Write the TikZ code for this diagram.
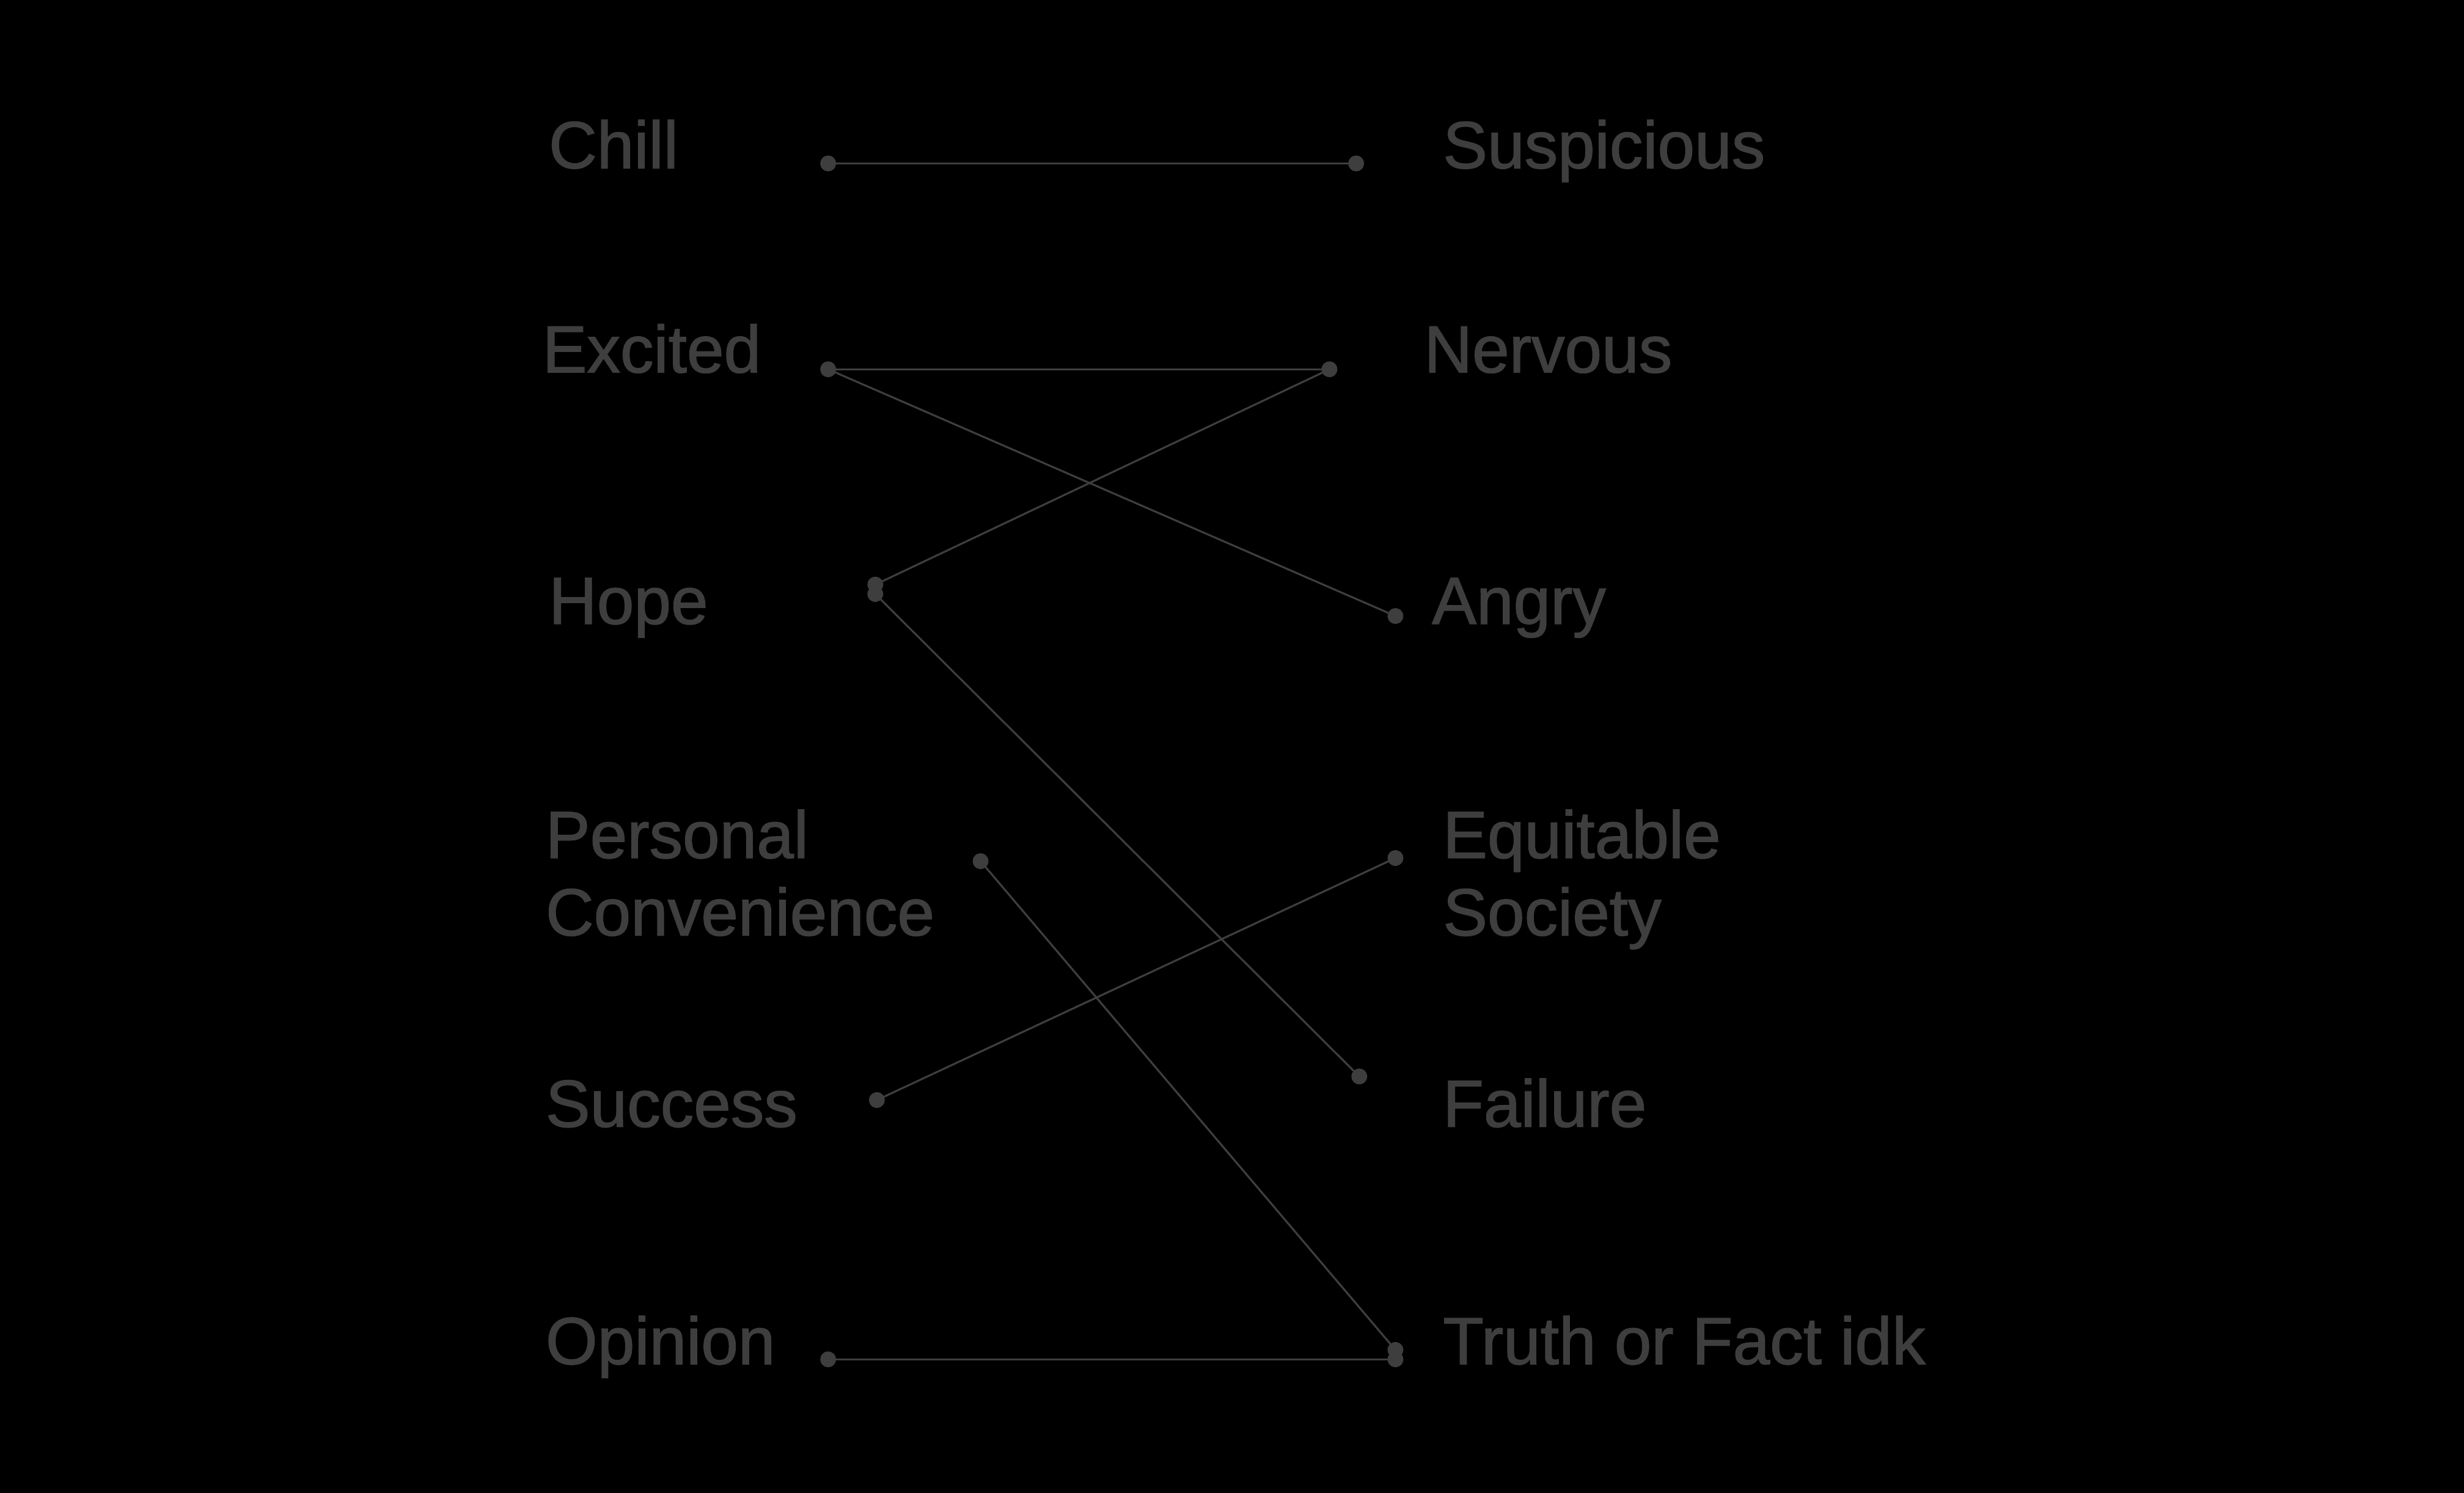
\documentclass[tikz,border=0pt]{standalone}
\usepackage{fontspec}
\setmainfont{Liberation Sans}
\newfontfamily\wordfont{Liberation Sans}[BoldFont={Liberation Sans}, BoldFeatures={FakeBold=1.4}]
\usepackage{tikz}
\usetikzlibrary{positioning}
\definecolor{dimgray}{RGB}{62,62,62}
\tikzstyle{word}=[%
      text=dimgray, anchor=base west, inner sep=0pt, align=left,
      font=\wordfont\bfseries\fontsize{31}{36}\selectfont
]
\tikzstyle{dot}=[%
      circle, fill=dimgray, draw=none, inner sep=0pt, minimum size=0.26cm
]
\tikzstyle{wire}=[%
      draw=dimgray, line width=0.9pt
]

\begin{document}
\begin{tikzpicture}[x=0.025714cm, y=-0.025714cm]
    \fill[black] (0,0) rectangle (1568,950);

    % left column
    \node[word] (chill)       at (349,107) {Chill};
    \node[word] (excited)     at (345,237) {Excited};
    \node[word] (hope)        at (349,397) {Hope};
    \node[word, anchor=north west] (convenience) at (347,515) {Personal\\Convenience};
    \node[word] (success)     at (347,717) {Success};
    \node[word] (opinion)     at (347,868) {Opinion};

    % right column
    \node[word] (suspicious)  at (918,107) {Suspicious};
    \node[word] (nervous)     at (906,237) {Nervous};
    \node[word] (angry)       at (911,397) {Angry};
    \node[word, anchor=north west] (equitable) at (918,515) {Equitable\\Society};
    \node[word] (failure)     at (918,717) {Failure};
    \node[word] (truth)       at (918,868) {Truth or Fact idk};

    % dots
    \node[dot] (chill-d)       at (527,104) {};
    \node[dot] (excited-d)     at (527,235) {};
    \node[dot] (hope-d1)       at (557,372) {};
    \node[dot] (hope-d2)       at (557,378) {};
    \node[dot] (convenience-d) at (624,548) {};
    \node[dot] (success-d)     at (558,700) {};
    \node[dot] (opinion-d)     at (527,865) {};
    \node[dot] (suspicious-d)  at (863,104) {};
    \node[dot] (nervous-d)     at (846,235) {};
    \node[dot] (angry-d)       at (888,392) {};
    \node[dot] (equitable-d)   at (888,546) {};
    \node[dot] (failure-d)     at (865,685) {};
    \node[dot] (truth-d1)      at (888,859) {};
    \node[dot] (truth-d2)      at (888,865) {};

    \draw[wire] (chill-d.center) -- (suspicious-d.center);
    \draw[wire] (excited-d.center) -- (nervous-d.center);
    \draw[wire] (excited-d.center) -- (angry-d.center);
    \draw[wire] (hope-d1.center) -- (nervous-d.center);
    \draw[wire] (hope-d2.center) -- (failure-d.center);
    \draw[wire] (convenience-d.center) -- (truth-d1.center);
    \draw[wire] (success-d.center) -- (equitable-d.center);
    \draw[wire] (opinion-d.center) -- (truth-d2.center);
\end{tikzpicture}
\end{document}
